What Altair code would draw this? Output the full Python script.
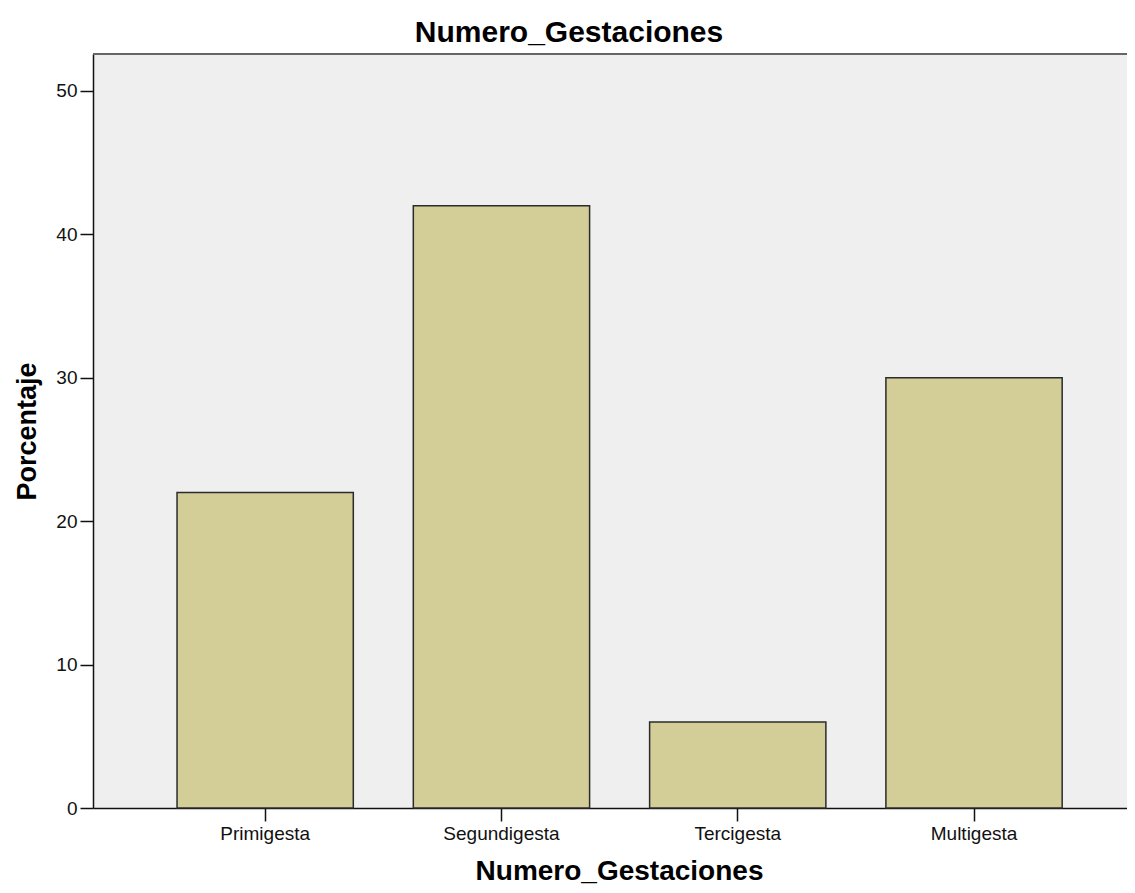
import altair as alt
import pandas as pd

categories = ["Primigesta", "Segundigesta", "Tercigesta", "Multigesta"]
percentages = [22, 42, 6, 30]
y_ticks = [0, 10, 20, 30, 40, 50]

df = pd.DataFrame({"Numero_Gestaciones": categories, "Porcentaje": percentages})

FONT = "Liberation Sans"
W = 1034
H = 754

bars = alt.Chart(df).mark_bar(
    color="#D3CE97", stroke="#2b2b2b", strokeWidth=1.5
).encode(
    x=alt.X(
        "Numero_Gestaciones:N",
        sort=categories,
        scale=alt.Scale(paddingInner=0.254, paddingOuter=0.315, align=0.5645),
        axis=alt.Axis(
            title="Numero_Gestaciones", labelAngle=0, labelFontSize=19,
            labelColor="#111", titleFontSize=28, titleFontWeight="bold",
            titleColor="#000", titleX=526, titleY=71, titleBaseline="alphabetic",
            titleAnchor="middle", titleAlign="center",
            tickSize=13, tickColor="#111", tickWidth=1.5,
            domain=True, domainColor="#111", domainWidth=1.5, labelPadding=3,
        ),
    ),
    y=alt.Y(
        "Porcentaje:Q",
        scale=alt.Scale(domain=[0, 52.58], nice=False),
        axis=alt.Axis(
            title="Porcentaje", values=y_ticks, labelFontSize=19,
            labelColor="#111", titleFontSize=27, titleFontWeight="bold",
            titleColor="#000", titlePadding=14, tickSize=13, tickColor="#111",
            tickWidth=1.5, grid=False, domain=True, domainColor="#111",
            domainWidth=1.5, labelPadding=3,
        ),
    ),
)

top_border = alt.Chart(df).mark_rule(color="#666", strokeWidth=2).encode(
    x=alt.value(0), x2=alt.value(W), y=alt.value(0)
)

chart = alt.layer(bars, top_border).properties(
    width=W,
    height=H,
    title=alt.Title(
        "Numero_Gestaciones", fontSize=30, fontWeight="bold", color="#000",
        offset=5, baseline="bottom", anchor="middle", dx=-41, dy=30,
    ),
    autosize=alt.AutoSizeParams(type="none"),
    padding={"left": 85, "top": 46, "right": 0, "bottom": 77},
).configure(
    font=FONT,
).configure_view(
    fill="#EFEFEF", stroke=None,
)

chart.save("out.html", embed_options={"renderer": "svg", "actions": False})
